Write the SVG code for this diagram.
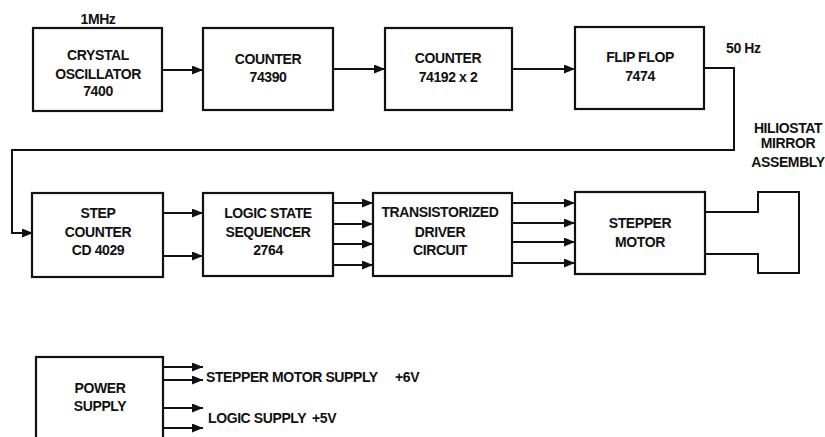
<svg xmlns="http://www.w3.org/2000/svg" width="825" height="437" viewBox="0 0 825 437">
<style>
.box{fill:#fff;stroke:#111;stroke-width:2.2}
.ln{fill:none;stroke:#111;stroke-width:2}
.t{font-family:"Liberation Sans",Arial,sans-serif;font-weight:bold;font-size:14px;letter-spacing:-0.4px;fill:#111;text-anchor:middle}
.s{text-anchor:start}
</style>
<defs>
<marker id="ah" markerUnits="userSpaceOnUse" markerWidth="11" markerHeight="9" refX="11" refY="4.5" orient="auto">
<path d="M0,0 L11,4.5 L0,9 z" fill="#111"/>
</marker>
</defs>
<rect width="825" height="437" fill="#fff"/>
<g id="connectors">
<path class="ln" d="M162,70 H203" marker-end="url(#ah)"/>
<path class="ln" d="M333,69 H385" marker-end="url(#ah)"/>
<path class="ln" d="M512,69 H575" marker-end="url(#ah)"/>
<path class="ln" d="M704,68 H734 V150 H12 V233 H33" marker-end="url(#ah)"/>
<path class="ln" d="M163,213 H203" marker-end="url(#ah)"/>
<path class="ln" d="M163,256 H203" marker-end="url(#ah)"/>
<path class="ln" d="M333,203 H373" marker-end="url(#ah)"/>
<path class="ln" d="M333,224 H373" marker-end="url(#ah)"/>
<path class="ln" d="M333,244 H373" marker-end="url(#ah)"/>
<path class="ln" d="M333,265 H373" marker-end="url(#ah)"/>
<path class="ln" d="M512,203 H575" marker-end="url(#ah)"/>
<path class="ln" d="M512,223 H575" marker-end="url(#ah)"/>
<path class="ln" d="M512,242 H575" marker-end="url(#ah)"/>
<path class="ln" d="M512,263 H575" marker-end="url(#ah)"/>
<path class="ln" d="M163,367 H203" marker-end="url(#ah)"/>
<path class="ln" d="M163,380 H203" marker-end="url(#ah)"/>
<path class="ln" d="M163,408 H203" marker-end="url(#ah)"/>
<path class="ln" d="M163,428 H203" marker-end="url(#ah)"/>
</g>
<g id="crystal">
<rect class="box" x="33" y="28" width="129" height="83"/>
<text class="t" x="98" y="24">1MHz</text>
<text class="t" x="98" y="60">CRYSTAL</text>
<text class="t" x="98" y="79">OSCILLATOR</text>
<text class="t" x="98" y="96">7400</text>
</g>
<g id="counter1">
<rect class="box" x="203" y="28" width="130" height="82"/>
<text class="t" x="268" y="64">COUNTER</text>
<text class="t" x="268" y="82">74390</text>
</g>
<g id="counter2">
<rect class="box" x="385" y="28" width="127" height="82"/>
<text class="t" x="448" y="63">COUNTER</text>
<text class="t" x="448" y="82">74192  x  2</text>
</g>
<g id="flipflop">
<rect class="box" x="575" y="27" width="129" height="82"/>
<text class="t" x="640" y="62">FLIP FLOP</text>
<text class="t" x="640" y="81">7474</text>
<text class="t s" x="726" y="53">50 Hz</text>
</g>
<g id="stepcounter">
<rect class="box" x="32" y="193" width="131" height="84"/>
<text class="t" x="98" y="218">STEP</text>
<text class="t" x="98" y="237">COUNTER</text>
<text class="t" x="98" y="255">CD 4029</text>
</g>
<g id="sequencer">
<rect class="box" x="203" y="193" width="130" height="83"/>
<text class="t" x="268" y="218">LOGIC STATE</text>
<text class="t" x="268" y="237">SEQUENCER</text>
<text class="t" x="268" y="255">2764</text>
</g>
<g id="driver">
<rect class="box" x="373" y="193" width="139" height="83"/>
<text class="t" x="440" y="217">TRANSISTORIZED</text>
<text class="t" x="440" y="237">DRIVER</text>
<text class="t" x="440" y="255">CIRCUIT</text>
</g>
<g id="motor">
<rect class="box" x="575" y="192" width="130" height="82"/>
<text class="t" x="640" y="228">STEPPER</text>
<text class="t" x="640" y="247">MOTOR</text>
</g>
<g id="mirror">
<path class="ln" d="M705,212 H758 V192 H799 V273 H758 V254 H705"/>
<text class="t" x="788" y="133">HILIOSTAT</text>
<text class="t" x="788" y="148">MIRROR</text>
<text class="t" x="788" y="167">ASSEMBLY</text>
</g>
<g id="power">
<rect class="box" x="36" y="357" width="127" height="100"/>
<text class="t" x="100" y="393">POWER</text>
<text class="t" x="100" y="411">SUPPLY</text>
<text class="t s" x="206" y="382">STEPPER MOTOR SUPPLY<tspan x="395">+6V</tspan></text>
<text class="t s" x="208" y="423">LOGIC SUPPLY<tspan x="312">+5V</tspan></text>
</g>
</svg>
